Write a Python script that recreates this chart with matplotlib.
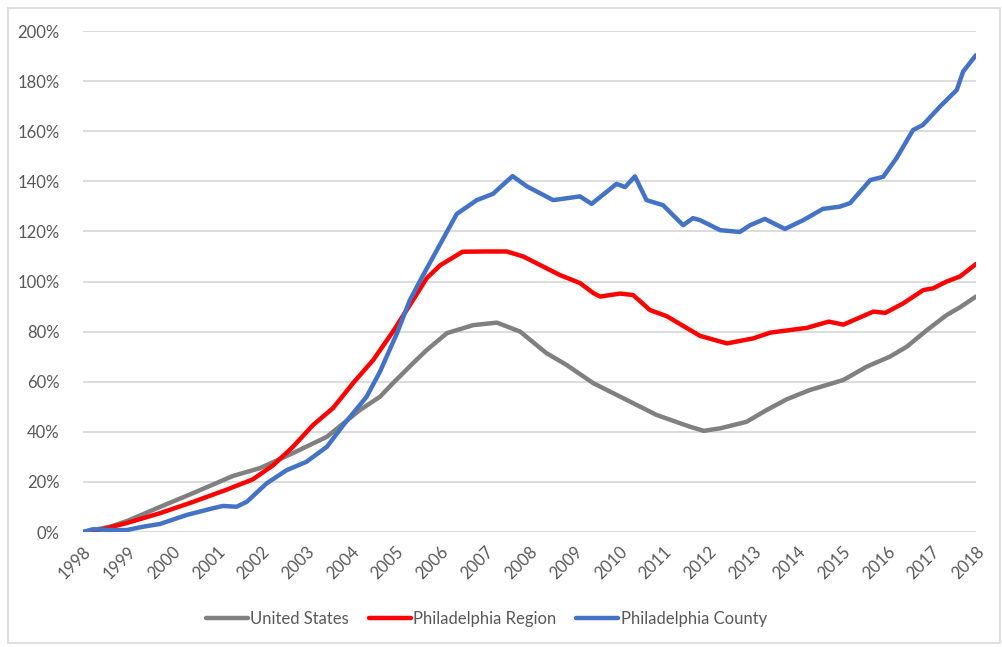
import matplotlib
matplotlib.use("Agg")
import matplotlib.pyplot as plt
from matplotlib.patches import Rectangle
from matplotlib.ticker import FuncFormatter

# cumulative home price growth since 1998 (%)
us_x = [1998.0, 1998.6, 1999.0, 1999.72, 2000.46, 2001.36, 2001.96, 2002.7,
        2003.46, 2004.2, 2004.65, 2004.94, 2005.39, 2005.7, 2006.15, 2006.37,
        2006.74, 2007.27, 2007.79, 2008.38, 2008.83, 2009.43, 2010.18, 2010.85,
        2011.6, 2011.9, 2012.27, 2012.86, 2013.31, 2013.76, 2014.28, 2015.03,
        2015.55, 2016.07, 2016.45, 2016.9, 2017.34, 2017.64, 2018.0]
us_y = [0.0, 2.1, 4.5, 10.0, 15.5, 22.4, 25.5, 31.5,
        38.0, 48.7, 54.0, 59.4, 67.4, 72.7, 79.4, 80.6,
        82.6, 83.6, 80.0, 71.4, 66.7, 59.4, 52.7, 46.7,
        42.0, 40.4, 41.4, 44.0, 48.7, 53.0, 56.7, 60.7,
        66.0, 70.0, 74.0, 80.6, 86.6, 89.7, 94.0]

region_x = [1998.0, 1998.2, 1998.98, 1999.72, 2000.46, 2001.2, 2001.8, 2002.26,
            2002.7, 2003.15, 2003.6, 2004.05, 2004.5, 2004.94, 2005.39, 2005.7,
            2006.0, 2006.5, 2007.0, 2007.49, 2007.86, 2008.68, 2009.13, 2009.43,
            2009.58, 2010.03, 2010.32, 2010.7, 2011.07, 2011.82, 2012.42, 2013.01,
            2013.39, 2014.21, 2014.7, 2015.03, 2015.7, 2015.97, 2016.37, 2016.82,
            2017.04, 2017.34, 2017.64, 2018.0]
region_y = [0.0, 0.0, 3.6, 7.5, 12.0, 16.8, 21.0, 26.7,
            34.0, 42.7, 49.5, 59.5, 68.7, 80.0, 92.6, 101.4,
            106.5, 111.9, 112.0, 112.0, 110.0, 102.6, 99.4, 95.4,
            94.0, 95.2, 94.6, 88.6, 86.2, 78.3, 75.3, 77.3,
            79.6, 81.5, 84.0, 82.8, 88.0, 87.5, 91.3, 96.6,
            97.3, 100.0, 102.0, 107.0]

county_x = [1998.0, 1998.22, 1998.67, 1998.98, 1999.34, 1999.72, 2000.32, 2000.91,
            2001.13, 2001.44, 2001.67, 2002.11, 2002.56, 2003.0, 2003.46, 2003.83,
            2004.35, 2004.65, 2005.03, 2005.32, 2005.6, 2006.37, 2006.82, 2007.18,
            2007.62, 2007.94, 2008.53, 2009.13, 2009.39, 2009.95, 2010.14, 2010.36,
            2010.62, 2010.99, 2011.44, 2011.66, 2011.82, 2012.27, 2012.71, 2012.94,
            2013.27, 2013.72, 2014.13, 2014.57, 2014.95, 2015.18, 2015.63, 2015.92,
            2016.22, 2016.59, 2016.81, 2017.19, 2017.57, 2017.71, 2018.0]
county_y = [0.0, 1.1, 0.8, 0.8, 2.1, 3.2, 6.8, 9.5,
            10.4, 10.1, 12.1, 19.4, 24.7, 28.0, 34.0, 42.7,
            54.0, 64.0, 79.3, 92.6, 102.0, 127.0, 132.5, 135.0,
            142.1, 138.0, 132.5, 134.0, 131.0, 139.0, 137.7, 142.0,
            132.5, 130.5, 122.5, 125.3, 124.5, 120.5, 119.8, 122.5,
            125.0, 121.0, 124.5, 129.0, 129.9, 131.3, 140.5, 141.8,
            149.3, 160.5, 162.5, 169.8, 176.5, 183.8, 190.4]

years = list(range(1998, 2019))
yticks = list(range(0, 201, 20))

fig = plt.figure(figsize=(10.03, 6.47), dpi=100)
plt.rcParams['font.family'] = ['Lato', 'DejaVu Sans']
fig.patches.append(Rectangle((0.008, 0.006), 0.989, 0.982, transform=fig.transFigure,
                             fill=False, edgecolor="#d9d9d9", linewidth=1.2))

ax = fig.add_axes([0.0828, 0.1777, 0.8903, 0.7743])
ax.plot(us_x, us_y, color="#808080", lw=3.2, label="United States", solid_capstyle="round")
ax.plot(region_x, region_y, color="#ff0000", lw=3.2, label="Philadelphia Region", solid_capstyle="round")
ax.plot(county_x, county_y, color="#4472c4", lw=3.2, label="Philadelphia County", solid_capstyle="round")

ax.set_xlim(1998, 2018)
ax.set_ylim(0, 200)
ax.set_yticks(yticks)
ax.yaxis.set_major_formatter(FuncFormatter(lambda v, p: "%d%%" % v))
ax.set_xticks(years)
ax.set_xticklabels([str(y) for y in years], rotation=45, ha="right", rotation_mode="anchor")
ax.grid(axis="y", color="#d9d9d9", lw=1.3)
ax.set_axisbelow(True)
for s in ax.spines.values():
    s.set_visible(False)
ax.tick_params(axis="both", length=0, colors="#595959", labelsize=12)
ax.tick_params(axis="y", pad=17)
ax.tick_params(axis="x", pad=8)

fig.legend(loc="center", bbox_to_anchor=(0.485, 0.043), ncol=3, frameon=False,
           fontsize=12, handlelength=2.5, handletextpad=0.15, columnspacing=1.2,
           labelcolor="#595959")

fig.savefig("out.png", dpi=100)
